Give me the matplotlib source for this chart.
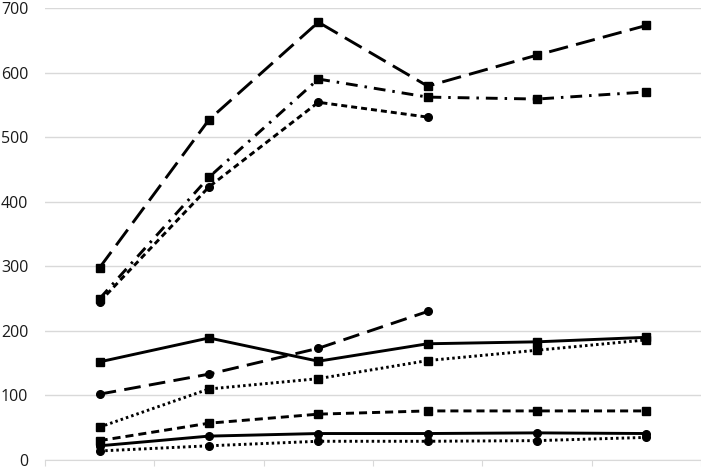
import matplotlib.pyplot as plt
import numpy as np

plt.rcParams['font.family'] = ['Open Sans', 'DejaVu Sans']
plt.rcParams['lines.scale_dashes'] = False

# six categories, no labels shown on the x axis
categories = ['1', '2', '3', '4', '5', '6']

# series values (None = no point)
long_dash_sq = [298, 527, 678, 579, 627, 673]
dash_dot_sq = [250, 438, 590, 562, 559, 570]
short_dash_ci = [245, 423, 554, 531, None, None]
solid_sq = [152, 189, 153, 180, 183, 190]
long_dash_ci = [102, 133, 173, 230, None, None]
dotted_sq = [51, 110, 126, 154, 170, 186]
dashed_sq = [30, 57, 71, 76, 76, 76]
solid_ci = [22, 37, 41, 41, 42, 41]
dotted_ci = [14, 22, 29, 29, 30, 35]

yticks = [0, 100, 200, 300, 400, 500, 600, 700]

# (values, marker, dash pattern in points or '-' for solid)
series = [
    (long_dash_sq, 's', (0, (14, 6))),
    (dash_dot_sq, 's', (0, (8.5, 5, 1.8, 5))),
    (short_dash_ci, 'o', (0, (4.3, 2.9))),
    (solid_sq, 's', '-'),
    (long_dash_ci, 'o', (0, (12, 6))),
    (dotted_sq, 's', (0, (1.8, 2.2))),
    (dashed_sq, 's', (0, (5.8, 3.6))),
    (solid_ci, 'o', '-'),
    (dotted_ci, 'o', (0, (1.8, 2.2))),
]

fig = plt.figure(figsize=(7.01, 4.67), dpi=100)
ax = fig.add_axes([45 / 701, 7 / 467, 656 / 701, 452 / 467])

x = np.arange(len(categories))
for vals, marker, ls in series:
    y = np.array([np.nan if v is None else v for v in vals], dtype=float)
    ax.plot(x, y, color='black', linewidth=2.1, linestyle=ls,
            marker=marker, markersize=5.5, clip_on=False)

ax.set_xlim(-0.5, len(categories) - 0.5)
ax.set_ylim(0, 700)
ax.set_yticks(yticks)
ax.set_yticklabels([str(t) for t in yticks], fontsize=11.5, color='#1a1a1a')
ax.set_xticks(np.arange(-0.5, len(categories), 1.0))
ax.set_xticklabels([])

ax.grid(axis='y', color='#d9d9d9', linewidth=1)
ax.set_axisbelow(True)
for side in ['top', 'right', 'left']:
    ax.spines[side].set_visible(False)
ax.spines['bottom'].set_color('#d9d9d9')
ax.tick_params(axis='y', length=0, pad=12)
ax.tick_params(axis='x', length=4, color='#d9d9d9', direction='out')

plt.savefig('out.png', dpi=100)
